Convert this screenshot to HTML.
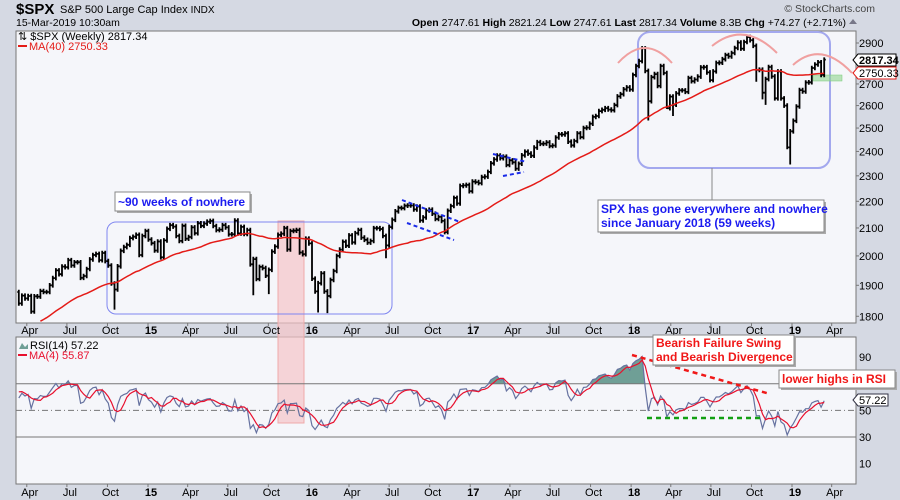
<!DOCTYPE html>
<html><head><meta charset="utf-8"><style>
html,body{margin:0;padding:0;background:#d5d9e3;}
svg{display:block;font-family:"Liberation Sans",sans-serif;}
</style></head><body>
<svg id="c" width="900" height="500" viewBox="0 0 900 500">
<rect x="0" y="0" width="900" height="500" fill="#d5d9e3"/>
<g>
<text x="16" y="14" font-size="15" font-weight="bold">$SPX</text>
<text x="60" y="13" font-size="11">S&amp;P 500 Large Cap Index <tspan font-size="10">INDX</tspan></text>
<text x="16" y="26" font-size="10.5">15-Mar-2019 10:30am</text>
<text x="875" y="12" font-size="10.5" text-anchor="end" fill="#444">© StockCharts.com</text>
<text x="846" y="26" font-size="10.5" text-anchor="end"><tspan font-weight="bold">Open</tspan> 2747.61 <tspan font-weight="bold">High</tspan> 2821.24 <tspan font-weight="bold">Low</tspan> 2747.61 <tspan font-weight="bold">Last</tspan> 2817.34 <tspan font-weight="bold">Volume</tspan> 8.3B <tspan font-weight="bold">Chg</tspan> +74.27 (+2.71%)</text>
<path d="M849 24 L853 19 L857 24 Z" fill="#778"/>
</g>
<rect x="16" y="31" width="840" height="292" fill="#f5f6fa" stroke="#777"/>
<rect x="16" y="337" width="840" height="147" fill="#f5f6fa" stroke="#777"/>
<g id="ann-back"></g>
<g id="price"></g>
<g id="rsi"></g>
<g id="axes"></g>
<g id="ann"></g>
</svg>
<script>
const startDate = [2014, 2, 14];
const preCloses = [1640,1590,1606,1631,1676,1680,1692,1709,1691,1706,1688,1655,1663,1656,1633,1639,1655,1687,1709,1691,1691,1703,1744,1759,1762,1770,1798,1791,1798,1805,1775,1818,1842,1831,1838,1848,1842,1790,1782,1797,1838,1836,1859,1878];
const closes = [
1841,1866,1857,1865,1815,1864,1863,1881,1878,1878,1900,1924,1950,1937,1963,1961,1985,1967,1978,1978,1925,1931,1955,1988,2003,2007,1985,2010,1982,1967,1906,1886,1964,2018,2031,2039,2063,2068,2075,2003,2071,2089,
2058,2045,2019,2051,1995,2055,2097,2110,2105,2071,2053,2108,2061,2067,2102,2081,2117,2108,2116,2123,2126,2107,2092,2094,2110,2102,2077,2077,2127,2080,2104,2078,2092,1971,1989,1921,1962,1958,1932,1952,2015,2033,2075,2079,2099,2023,2089,2090,2092,2012,2006,2061,2044,
1922,1880,1907,1940,1880,1865,1918,1948,2000,2022,2050,2036,2073,2048,2081,2092,2065,2057,2047,2053,2099,2099,2096,2071,2037,2103,2130,2162,2175,2174,2183,2184,2184,2169,2180,2128,2139,2165,2168,2153,2133,2141,2126,2085,2164,2182,2213,2192,2260,2262,2264,2239,
2277,2275,2271,2295,2297,2316,2351,2367,2383,2372,2378,2344,2363,2355,2329,2349,2384,2399,2391,2382,2416,2439,2432,2433,2438,2423,2425,2459,2473,2472,2477,2441,2426,2444,2477,2461,2500,2502,2519,2549,2553,2575,2581,2588,2582,2579,2602,2642,2652,2675,2684,2674,
2743,2786,2810,2873,2762,2620,2732,2747,2691,2786,2752,2588,2641,2604,2656,2670,2670,2663,2728,2713,2721,2735,2779,2780,2755,2718,2760,2801,2802,2819,2840,2833,2850,2875,2902,2872,2905,2930,2914,2886,2767,2768,2659,2723,2781,2736,2633,2760,2633,2600,2417,2486,
2532,2596,2671,2665,2707,2708,2776,2793,2804,2743,2817];
const spikeLowIdx = [31,76,81,97,100,119,204,210,212,239,241,242,249,250];
const spikeLowVal = [1821,1867,1871,1812,1810,1992,2533,2585,2553,2710,2628,2603,2409,2346];
const spikeHighIdx = [202,203,237];
const spikeHighVal = [2873,2872,2940];
const priceTicks = [2900,2800,2700,2600,2500,2400,2300,2200,2100,2000,1900,1800];
const rsiTicks = [90,50,30,10];
const rsiLines = [70,30];

const NS='http://www.w3.org/2000/svg';
function mk(tag,attrs,parent,txt){const e=document.createElementNS(NS,tag);for(const k in attrs)e.setAttribute(k,attrs[k]);if(txt!==undefined)e.textContent=txt;parent.appendChild(e);return e;}
const day0 = Date.UTC(2015,0,1);
function xOfDate(ms){return 148 + (ms-day0)/86400000/365.25*161;}
const start = Date.UTC(startDate[0],startDate[1],startDate[2]);
function xOf(i){return xOfDate(start + i*7*86400000);}
function yP(p){return 43 + 573*Math.log(2900/p);}
function yR(r){return 477 - r*1.333;}

const all = preCloses.concat(closes), off = preCloses.length;
const pg = document.getElementById('price');
for(let i=0;i<closes.length;i++){
  const c=closes[i], o=i>0?closes[i-1]:preCloses[preCloses.length-1];
  let hi=Math.max(o,c)*1.004, lo=Math.min(o,c)*0.996;
  const li=spikeLowIdx.indexOf(i); if(li>=0) lo=spikeLowVal[li];
  const hj=spikeHighIdx.indexOf(i); if(hj>=0) hi=Math.max(hi,spikeHighVal[hj]);
  const x=xOf(i);
  const b=mk('path',{d:`M${x.toFixed(1)} ${yP(hi).toFixed(1)}V${yP(lo).toFixed(1)}M${(x-1.5).toFixed(1)} ${yP(o).toFixed(1)}H${x.toFixed(1)}M${x.toFixed(1)} ${yP(c).toFixed(1)}H${(x+1.6).toFixed(1)}`,stroke:'#000','stroke-width':1.8,fill:'none'},pg);
  
  
}
let pts=[];
for(let i=0;i<closes.length;i++){let s=0;for(let k=0;k<40;k++)s+=all[off+i-k];const m=s/40;const y=yP(m);if(y<323)pts.push(xOf(i).toFixed(1)+','+y.toFixed(1));}
const ma=mk('polyline',{points:pts.join(' '),fill:'none',stroke:'#e41b17','stroke-width':1.5},pg);



let ag=0,al=0;for(let k=1;k<=14;k++){const d=all[k]-all[k-1];if(d>0)ag+=d;else al-=d;}ag/=14;al/=14;
const rsiAll=[];for(let k=15;k<all.length;k++){const d=all[k]-all[k-1];ag=(ag*13+Math.max(d,0))/14;al=(al*13+Math.max(-d,0))/14;rsiAll[k]=100-100/(1+ag/al);}
const rsi=closes.map((c,i)=>rsiAll[off+i]);
const rsiMa=closes.map((c,i)=>(rsiAll[off+i]+rsiAll[off+i-1]+rsiAll[off+i-2]+rsiAll[off+i-3])/4);
const rg=document.getElementById('rsi');
let fp='';
for(let i=1;i<rsi.length;i++){const a=Math.max(rsi[i-1],70),b=Math.max(rsi[i],70);if(a>70||b>70)fp+=`M${xOf(i-1).toFixed(1)} ${yR(70)}L${xOf(i-1).toFixed(1)} ${yR(a).toFixed(1)}L${xOf(i).toFixed(1)} ${yR(b).toFixed(1)}L${xOf(i).toFixed(1)} ${yR(70)}Z`;}
const fl=mk('path',{d:fp,fill:'#6f9f96',stroke:'none'},rg);


rsiLines.forEach(v=>{const l=mk('line',{x1:16,x2:856,y1:yR(v),y2:yR(v),stroke:'#777','stroke-width':1},rg);

});
const mid=mk('line',{x1:16,x2:856,y1:yR(50),y2:yR(50),stroke:'#777','stroke-width':1,'stroke-dasharray':'6,3,1,3'},rg);


const rl=mk('polyline',{points:rsi.map((v,i)=>xOf(i).toFixed(1)+','+yR(v).toFixed(1)).join(' '),fill:'none',stroke:'#6672a0','stroke-width':1.2},rg);


const rm=mk('polyline',{points:rsiMa.map((v,i)=>xOf(i).toFixed(1)+','+yR(v).toFixed(1)).join(' '),fill:'none',stroke:'#e8102e','stroke-width':1.2},rg);



const ax=document.getElementById('axes');
priceTicks.forEach(v=>{const t=mk('text',{x:859,y:yP(v)+4,'font-size':11},ax,String(v));


mk('line',{x1:856,x2:859,y1:yP(v),y2:yP(v),stroke:'#777'},ax);});
rsiTicks.forEach(v=>{const t=mk('text',{x:859,y:yR(v)+4,'font-size':11},ax,String(v));

});
const months=['Jan','Apr','Jul','Oct'];
for(let y=2014;y<=2019;y++){for(let q=0;q<4;q++){const ms=Date.UTC(y,q*3,1);const x=xOfDate(ms);if(x<20||x>850)continue;
 const lab=q===0?String(y).slice(2):months[q];
 [330,492].forEach(yy=>{const t=mk('text',{x:x+3,y:yy+4,'font-size':11,'text-anchor':'middle','font-weight':q===0?'bold':'normal'},ax,lab);
 
 });
 mk('line',{x1:x,x2:x,y1:323,y2:326,stroke:'#777'},ax);mk('line',{x1:x,x2:x,y1:484,y2:487,stroke:'#777'},ax);}}
</script>
<script>
(function(){
const back=document.getElementById('ann-back');
back.innerHTML=`
<rect x="278" y="221" width="26" height="202" fill="#f5c5c8" fill-opacity="0.7" stroke="#eaa"/>
<rect x="107" y="222" width="285" height="92" rx="9" fill="none" stroke="#7f86f0" stroke-width="1"/>
<rect x="638" y="32" width="192" height="136" rx="12" fill="none" stroke="#a3a8ee" stroke-width="2"/>
<rect x="813" y="75" width="29" height="6" fill="#8fd68f" fill-opacity="0.6" stroke="#7c7" stroke-width="0.5"/>`;
const a=document.getElementById('ann');
a.innerHTML=`
<path d="M618 63 Q645 33 672 63" fill="none" stroke="#f0a0a0" stroke-width="2"/>
<path d="M712 46 Q744 20 777 53" fill="none" stroke="#f0a0a0" stroke-width="2"/>
<path d="M793 65 Q821 40 852 73" fill="none" stroke="#f0a0a0" stroke-width="2"/>
<line x1="402" y1="200" x2="460" y2="222" stroke="#1a2be8" stroke-width="2" stroke-dasharray="4,3"/>
<line x1="407" y1="223" x2="454" y2="240" stroke="#1a2be8" stroke-width="2" stroke-dasharray="4,3"/>
<line x1="493" y1="154" x2="527" y2="162" stroke="#1a2be8" stroke-width="2" stroke-dasharray="4,3"/>
<line x1="503" y1="176" x2="524" y2="172" stroke="#1a2be8" stroke-width="2" stroke-dasharray="4,3"/>
<line x1="712" y1="168" x2="712" y2="200" stroke="#888" stroke-width="1"/>
<line x1="632" y1="355" x2="770" y2="394" stroke="#f01818" stroke-width="2.5" stroke-dasharray="5,4"/>
<line x1="647" y1="418" x2="763" y2="418" stroke="#12a012" stroke-width="2.5" stroke-dasharray="5,4"/>
<g><rect x="117" y="194" width="135" height="19" fill="#aaa"/><rect x="115" y="192" width="135" height="19" fill="#fff" stroke="#888"/><text x="118" y="206" font-size="12" font-weight="bold" fill="#1b1bf0">~90 weeks of nowhere</text></g>
<g><rect x="600" y="202" width="226" height="32" fill="#aaa"/><rect x="598" y="200" width="226" height="32" fill="#fff" stroke="#888"/><text x="601" y="213" font-size="12" font-weight="bold" fill="#1b1bf0">SPX has gone everywhere and nowhere</text><text x="601" y="227" font-size="12" font-weight="bold" fill="#1b1bf0">since January 2018 (59 weeks)</text></g>
<g><rect x="655" y="337" width="141" height="30" fill="#aaa"/><rect x="653" y="335" width="141" height="30" fill="#fff" stroke="#888"/><text x="656" y="347" font-size="12" font-weight="bold" fill="#f01818">Bearish Failure Swing</text><text x="656" y="361" font-size="12" font-weight="bold" fill="#f01818">and Bearish Divergence</text></g>
<g><rect x="781" y="372" width="116" height="18" fill="#aaa"/><rect x="779" y="370" width="116" height="18" fill="#fff" stroke="#888"/><text x="782" y="383" font-size="12" font-weight="bold" fill="#f01818">lower highs in RSI</text></g>
<g><text x="18" y="40" font-size="11">⇅ $SPX (Weekly) 2817.34</text><rect x="18" y="45" width="9" height="2" fill="#e41b17"/><text x="29" y="50" font-size="11" fill="#e41b17">MA(40) 2750.33</text></g>
<g><path d="M19 349 L22 343 L25 347 L28 344 L28 349Z" fill="#6f9f96"/><text x="30" y="349" font-size="11">RSI(14) 57.22</text><rect x="18" y="354" width="9" height="2" fill="#e8102e"/><text x="29" y="359" font-size="11" fill="#e8102e">MA(4) 55.87</text></g>
<g><path d="M853 60 L858 54 H896 V66 H858 Z" fill="#fff" stroke="#000"/><text x="859" y="64" font-size="11" font-weight="bold">2817.34</text></g>
<g><path d="M853 73 L858 67 H896 V79 H858 Z" fill="#fff" stroke="#e41b17"/><text x="859" y="77" font-size="11">2750.33</text></g>
<g><path d="M853 400 L858 394 H888 V406 H858 Z" fill="#fff" stroke="#334"/><text x="859" y="404" font-size="11">57.22</text></g>`;
})();
</script>
</body></html>
